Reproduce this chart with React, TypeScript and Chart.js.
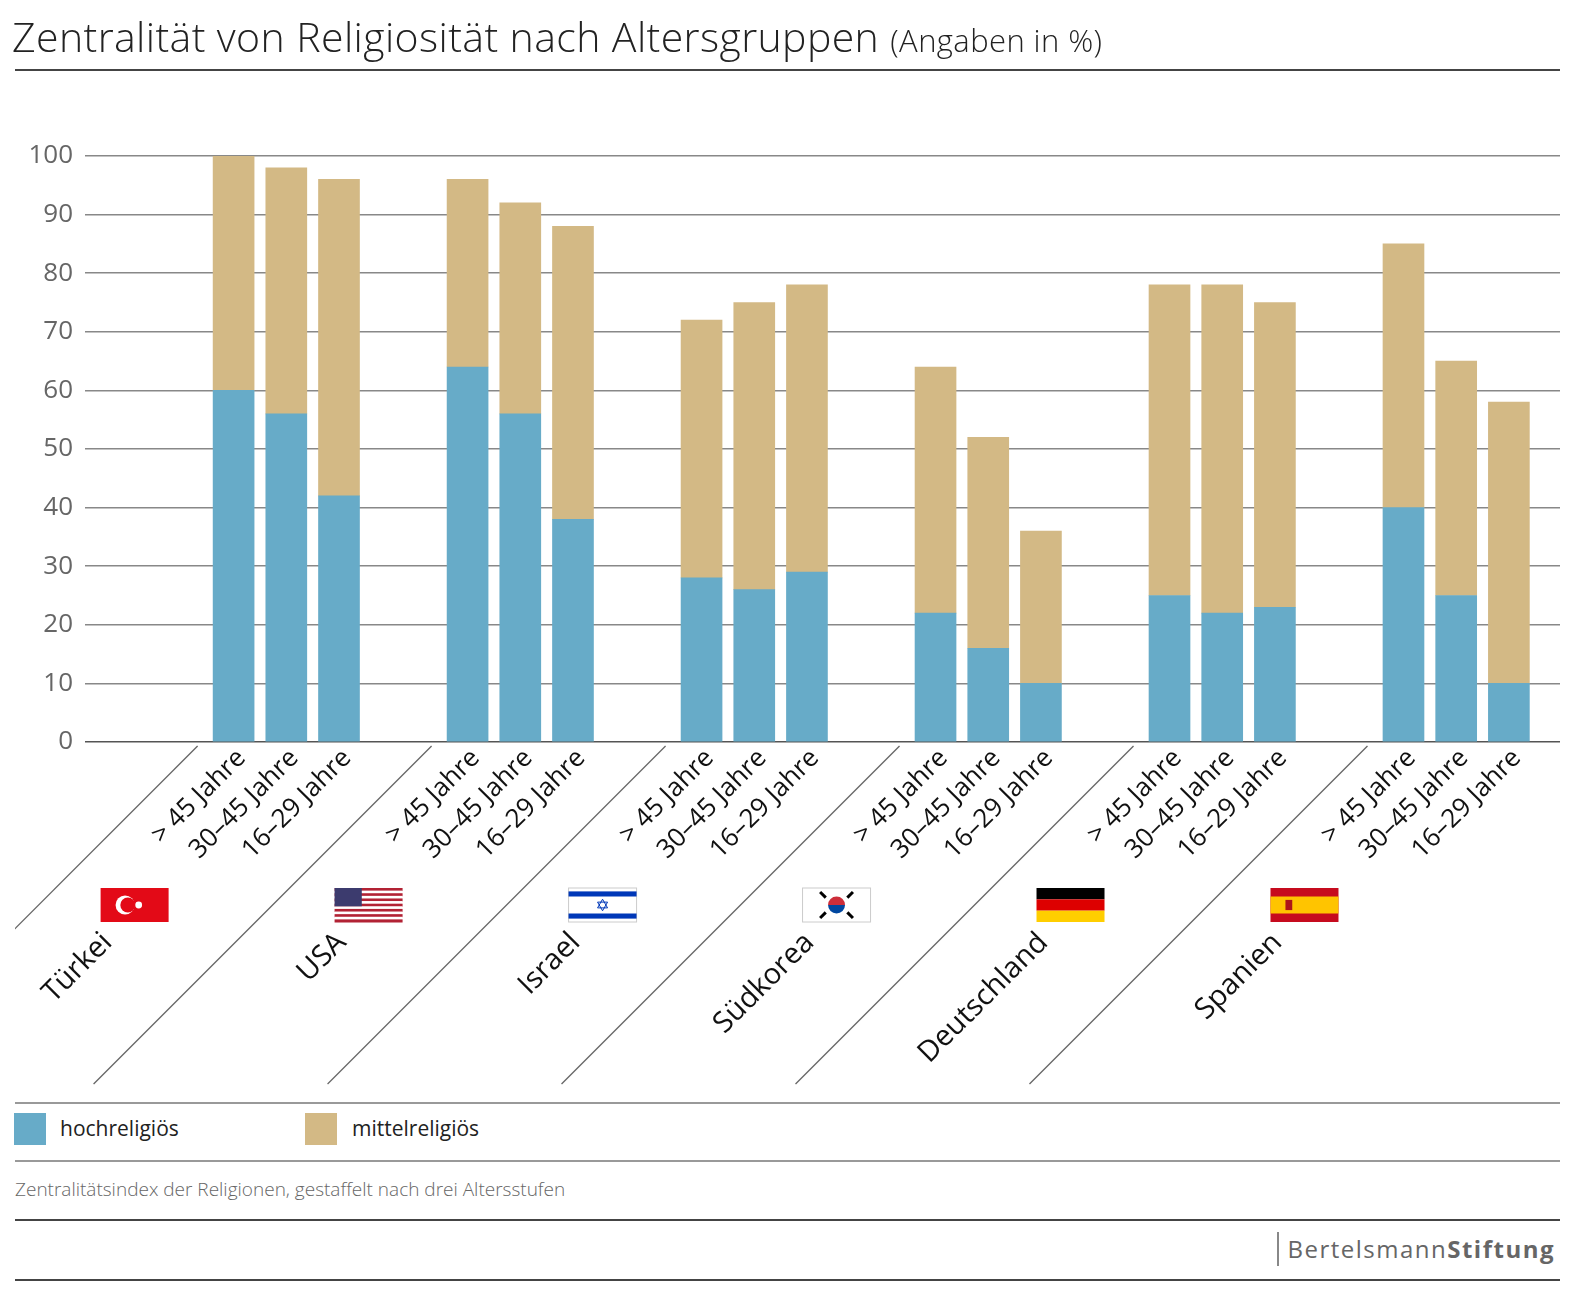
import { useEffect, useRef } from 'react';
import { Chart, registerables } from 'chart.js';

Chart.register(...registerables);

const countries = ['Türkei', 'USA', 'Israel', 'Südkorea', 'Deutschland', 'Spanien'];
const ageGroups = ['> 45 Jahre', '30–45 Jahre', '16–29 Jahre'];
// per country: > 45, 30–45, 16–29
const hochValues = [60, 56, 42, 64, 56, 38, 28, 26, 29, 22, 16, 10, 25, 22, 23, 40, 25, 10];
const mittelValues = [40, 42, 54, 32, 36, 50, 44, 49, 49, 42, 36, 26, 53, 56, 52, 45, 40, 48];
const yTicks = [0, 10, 20, 30, 40, 50, 60, 70, 80, 90, 100];

const BLUE = '#67abc8';
const TAN = '#d3b985';
const GROUP_STEP = 4.44;
const FONT = '"Open Sans", sans-serif';

const xPos = (i: number) => Math.floor(i / 3) * GROUP_STEP + (i % 3);

function drawFlag(ctx: CanvasRenderingContext2D, name: string, x: number, y: number, w: number, h: number) {
  ctx.save();
  if (name === 'Türkei') {
    ctx.fillStyle = '#e30a17';
    ctx.fillRect(x, y, w, h);
    ctx.fillStyle = '#fff';
    ctx.beginPath();
    ctx.arc(x + w * 0.36, y + h / 2, h * 0.28, 0, Math.PI * 2);
    ctx.fill();
    ctx.fillStyle = '#e30a17';
    ctx.beginPath();
    ctx.arc(x + w * 0.4, y + h / 2, h * 0.22, 0, Math.PI * 2);
    ctx.fill();
    ctx.fillStyle = '#fff';
    ctx.beginPath();
    ctx.arc(x + w * 0.56, y + h / 2, h * 0.1, 0, Math.PI * 2);
    ctx.fill();
  } else if (name === 'USA') {
    for (let s = 0; s < 13; s++) {
      ctx.fillStyle = s % 2 === 0 ? '#b22234' : '#fff';
      ctx.fillRect(x, y + (s * h) / 13, w, h / 13 + 0.5);
    }
    ctx.fillStyle = '#3c3b6e';
    ctx.fillRect(x, y, w * 0.4, (h * 7) / 13);
  } else if (name === 'Israel') {
    ctx.fillStyle = '#fff';
    ctx.fillRect(x, y, w, h);
    ctx.strokeStyle = '#ccc';
    ctx.strokeRect(x, y, w, h);
    ctx.fillStyle = '#0038b8';
    ctx.fillRect(x, y + h * 0.1, w, h * 0.15);
    ctx.fillRect(x, y + h * 0.75, w, h * 0.15);
    ctx.strokeStyle = '#0038b8';
    ctx.lineWidth = 1;
    const cx = x + w / 2, cy = y + h / 2, r = h * 0.17;
    for (const off of [0, Math.PI]) {
      ctx.beginPath();
      for (let k = 0; k < 3; k++) {
        const a = off - Math.PI / 2 + (k * 2 * Math.PI) / 3;
        const px = cx + r * Math.cos(a), py = cy + r * Math.sin(a);
        if (k === 0) ctx.moveTo(px, py); else ctx.lineTo(px, py);
      }
      ctx.closePath();
      ctx.stroke();
    }
  } else if (name === 'Südkorea') {
    ctx.fillStyle = '#fff';
    ctx.fillRect(x, y, w, h);
    ctx.strokeStyle = '#ccc';
    ctx.strokeRect(x, y, w, h);
    const cx = x + w / 2, cy = y + h / 2, r = h * 0.25;
    ctx.fillStyle = '#cd2e3a';
    ctx.beginPath();
    ctx.arc(cx, cy, r, Math.PI, 0);
    ctx.fill();
    ctx.fillStyle = '#0047a0';
    ctx.beginPath();
    ctx.arc(cx, cy, r, 0, Math.PI);
    ctx.fill();
    ctx.fillStyle = '#000';
    for (const [dx, dy] of [[-1, -1], [1, -1], [-1, 1], [1, 1]]) {
      ctx.save();
      ctx.translate(cx + dx * w * 0.2, cy + dy * h * 0.3);
      ctx.rotate(dx * dy > 0 ? -Math.PI / 4 : Math.PI / 4);
      ctx.fillRect(-1.5, -4, 3, 8);
      ctx.restore();
    }
  } else if (name === 'Deutschland') {
    ctx.fillStyle = '#000';
    ctx.fillRect(x, y, w, h / 3);
    ctx.fillStyle = '#dd0000';
    ctx.fillRect(x, y + h / 3, w, h / 3);
    ctx.fillStyle = '#ffce00';
    ctx.fillRect(x, y + (2 * h) / 3, w, h / 3);
  } else if (name === 'Spanien') {
    ctx.fillStyle = '#c60b1e';
    ctx.fillRect(x, y, w, h);
    ctx.fillStyle = '#ffc400';
    ctx.fillRect(x, y + h / 4, w, h / 2);
    ctx.fillStyle = '#ad1519';
    ctx.fillRect(x + w * 0.22, y + h * 0.35, w * 0.1, h * 0.3);
  }
  ctx.restore();
}

const decorPlugin = {
  id: 'decor',
  afterDraw(chart: Chart) {
    const ctx = chart.ctx;
    const xs = chart.scales.x;
    const base = chart.scales.y.getPixelForValue(0);
    ctx.save();
    ctx.fillStyle = '#111';
    hochValues.forEach((_, i) => {
      const cx = xs.getPixelForValue(xPos(i));
      ctx.save();
      ctx.translate(cx + 8, base + 12);
      ctx.rotate(-Math.PI / 4);
      ctx.font = `26px ${FONT}`;
      ctx.textAlign = 'right';
      ctx.textBaseline = 'middle';
      ctx.fillText(ageGroups[i % 3], 0, 0);
      ctx.restore();
    });
    countries.forEach((c, g) => {
      const first = xs.getPixelForValue(g * GROUP_STEP);
      // diagonal separator
      ctx.save();
      ctx.beginPath();
      ctx.rect(15, 0, 2000, 2000);
      ctx.clip();
      ctx.strokeStyle = '#666';
      ctx.lineWidth = 1.3;
      const ex = first - 36, ey = base + 4;
      ctx.beginPath();
      ctx.moveTo(ex, ey);
      ctx.lineTo(ex - 338, ey + 338);
      ctx.stroke();
      ctx.restore();
      drawFlag(ctx, c, first - 133, 888, 68, 34);
      ctx.save();
      ctx.translate(first - 126, 938);
      ctx.rotate(-Math.PI / 4);
      ctx.font = `29px ${FONT}`;
      ctx.textAlign = 'right';
      ctx.textBaseline = 'middle';
      ctx.fillText(c, 0, 0);
      ctx.restore();
    });
    ctx.restore();
  },
};

export default function App() {
  const ref = useRef<HTMLCanvasElement>(null);

  useEffect(() => {
    if (!ref.current) return;
    const chart = new Chart(ref.current, {
      type: 'bar',
      data: {
        datasets: [
          {
            label: 'hochreligiös',
            data: hochValues.map((v, i) => ({ x: xPos(i), y: v })),
            backgroundColor: BLUE,
            barThickness: 41,
          },
          {
            label: 'mittelreligiös',
            data: mittelValues.map((v, i) => ({ x: xPos(i), y: v })),
            backgroundColor: TAN,
            barThickness: 41,
          },
        ],
      },
      options: {
        animation: false,
        responsive: false,
        layout: { padding: { top: 156, bottom: 1100 - 742, right: 21, left: 0 } },
        plugins: { legend: { display: false }, tooltip: { enabled: false } },
        scales: {
          x: {
            type: 'linear',
            stacked: true,
            offset: false,
            min: -2.82,
            max: 25.17,
            display: false,
          },
          y: {
            stacked: true,
            min: 0,
            max: 100,
            afterFit: (s: any) => {
              s.width = 85;
            },
            afterBuildTicks: (s: any) => {
              s.ticks = yTicks.map((v) => ({ value: v }));
            },
            border: { display: false },
            grid: {
              drawTicks: false,
              color: (c: any) => (c.tick.value === 0 ? '#555' : '#888'),
              lineWidth: 1.5,
            },
            ticks: {
              padding: 12,
              color: '#666',
              font: { family: FONT, size: 26 },
            },
          },
        },
      },
      plugins: [decorPlugin],
    });
    return () => chart.destroy();
  }, []);

  const line = (top: number, color: string, h = 2) => (
    <div style={{ position: 'absolute', left: 15, width: 1545, top, height: h, background: color }} />
  );

  return (
    <div style={{ position: 'fixed', left: 0, top: 0, width: 1581, height: 1299, background: '#fff', fontFamily: FONT }}>
      <canvas ref={ref} width={1581} height={1100} style={{ position: 'absolute', left: 0, top: 0, width: 1581, height: 1100 }} />
      <div style={{ position: 'absolute', left: 12, top: 8, fontSize: 41, fontWeight: 300, color: '#222', whiteSpace: 'nowrap', letterSpacing: 0.4 }}>
        Zentralität von Religiosität nach Altersgruppen <span style={{ fontSize: 31 }}>(Angaben in %)</span>
      </div>
      {line(69, '#444')}
      {line(1102, '#999')}
      <div style={{ position: 'absolute', left: 14, top: 1113, width: 32, height: 32, background: BLUE }} />
      <div style={{ position: 'absolute', left: 60, top: 1114, fontSize: 21, color: '#222' }}>hochreligiös</div>
      <div style={{ position: 'absolute', left: 305, top: 1113, width: 32, height: 32, background: TAN }} />
      <div style={{ position: 'absolute', left: 352, top: 1114, fontSize: 21, color: '#222' }}>mittelreligiös</div>
      {line(1160, '#999')}
      <div style={{ position: 'absolute', left: 15, top: 1176, fontSize: 19, fontWeight: 300, color: '#666' }}>
        Zentralitätsindex der Religionen, gestaffelt nach drei Altersstufen
      </div>
      {line(1219, '#444')}
      <div style={{ position: 'absolute', left: 1277, top: 1232, width: 2, height: 34, background: '#888' }} />
      <div style={{ position: 'absolute', right: 26, top: 1232, fontSize: 24, color: '#666', letterSpacing: 1.5 }}>
        Bertelsmann<b>Stiftung</b>
      </div>
      {line(1279, '#444')}
    </div>
  );
}
